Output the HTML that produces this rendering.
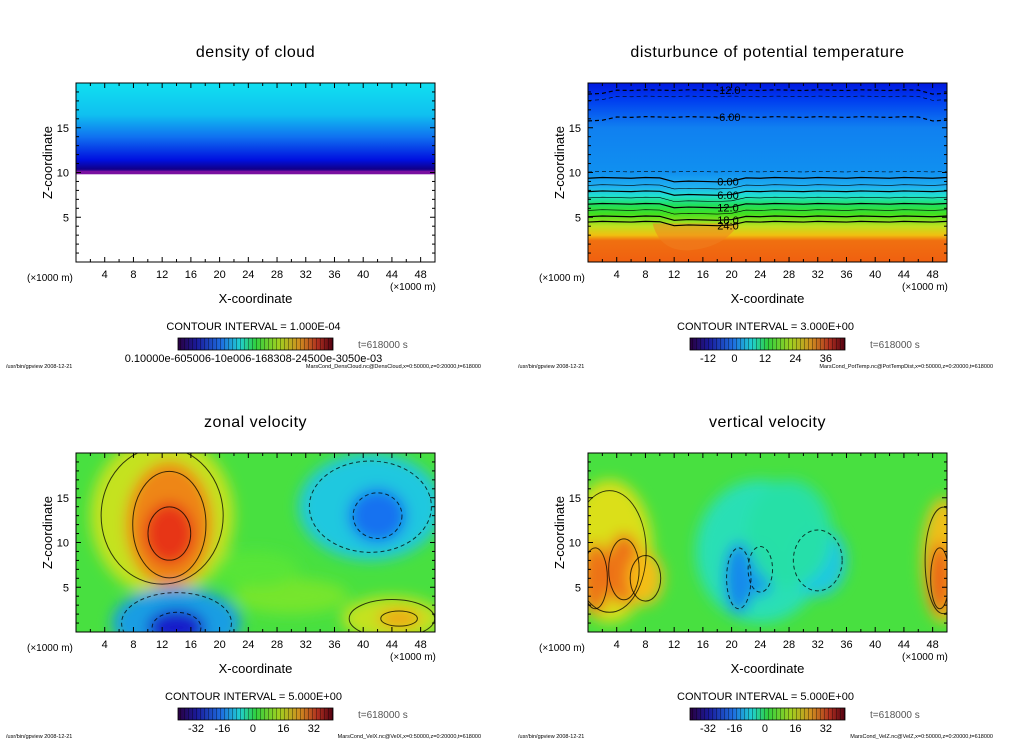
<!DOCTYPE html>
<html><head><meta charset="utf-8">
<style>
html,body{margin:0;padding:0;background:#fff;}
svg{display:block;font-family:"Liberation Sans",sans-serif;}
</style></head>
<body>
<svg id="fig" width="1024" height="740" viewBox="0 0 1024 740" xmlns="http://www.w3.org/2000/svg">
<defs>
<filter id="blur6" x="-50%" y="-50%" width="200%" height="200%"><feGaussianBlur stdDeviation="7"/></filter>
<linearGradient id="rainbow" x1="0" x2="1" y1="0" y2="0">
<stop offset="0" stop-color="#2a0040"/><stop offset="0.12" stop-color="#1a1a9a"/><stop offset="0.28" stop-color="#1e6ee0"/>
<stop offset="0.4" stop-color="#20d0d0"/><stop offset="0.5" stop-color="#30d040"/><stop offset="0.65" stop-color="#a0d020"/>
<stop offset="0.78" stop-color="#d09020"/><stop offset="0.9" stop-color="#b03020"/><stop offset="1" stop-color="#500010"/>
</linearGradient>
<pattern id="stripes" width="4" height="12" patternUnits="userSpaceOnUse"><rect x="0" y="0" width="1" height="12" fill="rgba(0,0,0,0.35)"/></pattern>
<linearGradient id="gCloud" x1="0" x2="0" y1="0" y2="1">
<stop offset="0" stop-color="#10e0f0"/><stop offset="0.35" stop-color="#10c0f0"/><stop offset="0.6" stop-color="#1070f0"/>
<stop offset="0.85" stop-color="#0010e0"/><stop offset="0.95" stop-color="#10008a"/><stop offset="1" stop-color="#7010a0"/>
</linearGradient>
<linearGradient id="gTemp" x1="0" x2="0" y1="0" y2="1">
<stop offset="0" stop-color="#0018e0"/><stop offset="0.1" stop-color="#0040f0"/><stop offset="0.25" stop-color="#1080f0"/>
<stop offset="0.5" stop-color="#1090f0"/><stop offset="0.58" stop-color="#20b0f0"/><stop offset="0.63" stop-color="#20e0d0"/>
<stop offset="0.68" stop-color="#20e060"/><stop offset="0.73" stop-color="#40e020"/><stop offset="0.8" stop-color="#c0e020"/>
<stop offset="0.85" stop-color="#f0c010"/><stop offset="0.88" stop-color="#f07010"/><stop offset="1" stop-color="#f06010"/>
</linearGradient>
</defs>
<g id="root"></g>
</svg>
<script>
// ---- data arrays ----
const xTickLabels = [4,8,12,16,20,24,28,32,36,40,44,48];
const zTickLabels = [5,10,15];
const titles = ["density of cloud","disturbunce of potential temperature","zonal velocity","vertical velocity"];
const intervals = ["CONTOUR INTERVAL = 1.000E-04","CONTOUR INTERVAL = 3.000E+00","CONTOUR INTERVAL = 5.000E+00","CONTOUR INTERVAL = 5.000E+00"];
const cbarLabels = [["0.10000e-605006-10e006-168308-24500e-3050e-03"],["-12","0","12","24","36"],["-32","-16","0","16","32"],["-32","-16","0","16","32"]];
const footers = ["MarsCond_DensCloud.nc@DensCloud,x=0:50000,z=0:20000,t=618000","MarsCond_PotTemp.nc@PotTempDist,x=0:50000,z=0:20000,t=618000","MarsCond_VelX.nc@VelX,x=0:50000,z=0:20000,t=618000","MarsCond_VelZ.nc@VelZ,x=0:50000,z=0:20000,t=618000"];
const tempLevels = [19.2, 18.5, 16.2, 10.1, 9.4, 8.6, 7.9, 7.2, 6.5, 5.8, 5.1, 4.5];
const tempLabels = ["-12.0","","-6.00","","0.00","","6.00","","12.0","","18.0","24.0"];
// zonal velocity blobs: x km, z km, rx km, rz km, value, contour?
const zonalX = [12, 13, 13, 41, 42, 14, 14, 44, 45, 30, 25];
const zonalZ = [13, 12, 11, 14, 13, 1, 0.5, 1.5, 1.5, 4, 7];
const zonalRX = [10, 6, 3.5, 10, 4, 9, 4, 7, 3, 8, 6];
const zonalRZ = [9, 7, 3.5, 6, 3, 4, 2, 2.5, 1, 2, 2];
const zonalV = [10, 20, 28, -10, -18, -14, -30, 10, 18, 4, 2];
// vertical velocity blobs
const vertX = [3, 5, 8, 1, 49.5, 49, 24, 21, 24, 32, 28];
const vertZ = [9, 7, 6, 6, 8, 6, 9, 6, 7, 8, 11];
const vertRX = [6, 2.5, 2.5, 2, 3, 1.5, 9, 2, 2, 4, 6];
const vertRZ = [8, 4, 3, 4, 7, 4, 8, 4, 3, 4, 6];
const vertV = [12, 22, 16, 22, 16, 24, -6, -16, -14, -10, -5];

const NS = "http://www.w3.org/2000/svg";
const root = document.getElementById("root");
function el(tag, attrs, parent, text){
  const e = document.createElementNS(NS, tag);
  for (const k in attrs) e.setAttribute(k, attrs[k]);
  if (text !== undefined) e.textContent = text;
  (parent||root).appendChild(e);
  return e;
}
function colorOf(v){
  const stops=[[-40,[42,0,64]],[-30,[20,20,200]],[-18,[20,110,240]],[-8,[30,220,230]],[0,[60,230,60]],[8,[180,230,30]],[14,[250,220,20]],[20,[240,130,20]],[28,[230,50,20]],[40,[150,0,20]]];
  if (v<=stops[0][0]) return "rgb("+stops[0][1]+")";
  for (let i=1;i<stops.length;i++){ if (v<=stops[i][0]){ const t=(v-stops[i-1][0])/(stops[i][0]-stops[i-1][0]); const a=stops[i-1][1], b=stops[i][1];
    return "rgb("+a.map((c,j)=>Math.round(c+(b[j]-c)*t)).join(",")+")"; } }
  return "rgb("+stops[stops.length-1][1]+")";
}
const PW = 359, PH = 179;
function panel(idx){
  const ox = (idx%2)*512, oy = Math.floor(idx/2)*370;
  const L = 76+ox, T = 83+oy;
  const sx = x => L + x/50*PW;
  const sz = z => T + PH - z/20*PH;
  const g = el("g", {}, root);
  
  
  const clipId = "clip"+idx;
  const cp = el("clipPath", {id: clipId}, g);
  el("rect", {x:L, y:T, width:PW, height:PH}, cp);
  const plot = el("g", {"clip-path":"url(#"+clipId+")"}, g);
  
  
  if (idx===0){
    el("rect",{x:L,y:sz(20),width:PW,height:sz(9.9)-sz(20),fill:"url(#gCloud)"},plot);
    el("rect",{x:L,y:sz(10.2),width:PW,height:sz(9.8)-sz(10.2),fill:"#7a10a0"},plot);
  } else if (idx===1){
    el("rect",{x:L,y:T,width:PW,height:PH,fill:"url(#gTemp)"},plot);
    el("path",{d:"M"+sx(9)+","+sz(4.3)+" Q"+sx(10)+","+sz(1.2)+" "+sx(14)+","+sz(1.3)+" Q"+sx(19)+","+sz(1.6)+" "+sx(21)+","+sz(4.3)+"Z",fill:"#f08020",opacity:0.5},plot);
    tempLevels.forEach((z,i)=>{
      const dashed = z>=9.9;
      const thick = tempLabels[i]!=="";
      let d="M"+L;
      for(let x=0;x<=50;x+=2){
        let zz=z;
        if(z<9.9 && x>10 && x<21) zz=z-0.4;
        if(z>15 && (x<4||x>46)) zz=z-0.4;
        d+=(x===0?",":" L"+sx(x)+",")+sz(zz+((x*7)%3-1)*0.04);
      }
      const p=el("path",{d:d,fill:"none",stroke:"#000","stroke-width":thick?1.2:0.6,"stroke-dasharray":dashed?"4,3":"none"},plot);
      
      
    });
    tempLevels.forEach((z,i)=>{
      if(!tempLabels[i]) return;
      const t=el("text",{x:sx(19.5),y:sz(z+(z<9.9?-0.4:0))+4,"font-size":11,"text-anchor":"middle",fill:"#000",stroke:"rgba(255,255,255,0.0)"},plot,tempLabels[i]);
      
      
    });
  } else {
    el("rect",{x:L,y:T,width:PW,height:PH,fill:"#48e040"},plot);
    const X = idx===2?zonalX:vertX, Z = idx===2?zonalZ:vertZ, RX = idx===2?zonalRX:vertRX, RZ = idx===2?zonalRZ:vertRZ, V = idx===2?zonalV:vertV;
    const bg = el("g",{filter:"url(#blur6)"},plot);
    X.forEach((x,i)=>{
      const e=el("ellipse",{cx:sx(x),cy:sz(Z[i]),rx:RX[i]/50*PW,ry:RZ[i]/20*PH,fill:colorOf(V[i]),opacity:0.95},bg);
      
      
    });
    X.forEach((x,i)=>{
      if (Math.abs(V[i])<8) return;
      const c=el("ellipse",{cx:sx(x),cy:sz(Z[i]),rx:RX[i]/50*PW*0.85,ry:RZ[i]/20*PH*0.85,fill:"none",stroke:"#000","stroke-width":1,"stroke-dasharray":V[i]<0?"4,3":"none",opacity:0.75},plot);
      
      
    });
  }
  const fr=el("rect",{x:L,y:T,width:PW,height:PH,fill:"none",stroke:"#000","stroke-width":1},g);
  
  
  for(let x=2;x<50;x+=2){
    const len = x%4===0?5:3;
    el("line",{x1:sx(x),x2:sx(x),y1:T+PH,y2:T+PH-len,stroke:"#000"},g);
    el("line",{x1:sx(x),x2:sx(x),y1:T,y2:T+len,stroke:"#000"},g);
  }
  for(let z=1;z<20;z++){
    const len = z%5===0?5:3;
    el("line",{x1:L,x2:L+len,y1:sz(z),y2:sz(z),stroke:"#000"},g);
    el("line",{x1:L+PW,x2:L+PW-len,y1:sz(z),y2:sz(z),stroke:"#000"},g);
  }
  xTickLabels.forEach(v=>{
    const t=el("text",{x:sx(v),y:T+PH+16,"font-size":11,"text-anchor":"middle"},g,String(v));
    
    
  });
  zTickLabels.forEach(v=>{
    const t=el("text",{x:L-7,y:sz(v)+4,"font-size":11,"text-anchor":"end"},g,String(v));
    
    
  });
  let t;
  t=el("text",{x:L-49,y:T+PH+19,"font-size":10},g,"(×1000 m)");
   
  t=el("text",{x:L+PW-45,y:T+PH+28,"font-size":10},g,"(×1000 m)");
   
  t=el("text",{x:L+PW/2,y:T+PH+41,"font-size":13,"text-anchor":"middle"},g,"X-coordinate");
   
  t=el("text",{x:0,y:0,"font-size":13,"text-anchor":"middle",transform:"translate("+(L-24)+","+(T+PH/2-10)+") rotate(-90)"},g,"Z-coordinate");
   
  t=el("text",{x:L+PW/2,y:T-26,"font-size":16,"text-anchor":"middle","letter-spacing":"0.5"},g,titles[idx]);
   
  t=el("text",{x:L+PW/2-2,y:T+PH+68,"font-size":11,"text-anchor":"middle"},g,intervals[idx]);
   
  const cx0=L+102, cw=155, cy0=T+PH+76;
  const cb=el("rect",{x:cx0,y:cy0,width:cw,height:12,fill:"url(#rainbow)",stroke:"#000","stroke-width":0.8},g);
   
  el("rect",{x:cx0,y:cy0,width:cw,height:12,fill:"url(#stripes)"},g);
  const labs=cbarLabels[idx];
  if(labs.length===1){
    t=el("text",{x:L+PW/2-2,y:cy0+24,"font-size":11,"text-anchor":"middle"},g,labs[0]);
     
  } else {
    labs.forEach((s,i)=>{
      const lx = cx0+14+i*(cw-28)/(labs.length-1)*0.96+ (i===0?4:0);
      t=el("text",{x:lx,y:cy0+24,"font-size":11,"text-anchor":"middle"},g,s);
       
    });
  }
  t=el("text",{x:L+282,y:cy0+10,"font-size":10,fill:"#555"},g,"t=618000 s");
   
  t=el("text",{x:L-70,y:T+PH+106,"font-size":5.5},g,"/usr/bin/gpview   2008-12-21");
   
  t=el("text",{x:L+PW+46,y:T+PH+106,"font-size":5.5,"text-anchor":"end"},g,footers[idx]);
   
}
for(let i=0;i<4;i++) panel(i);
</script>
</body></html>
